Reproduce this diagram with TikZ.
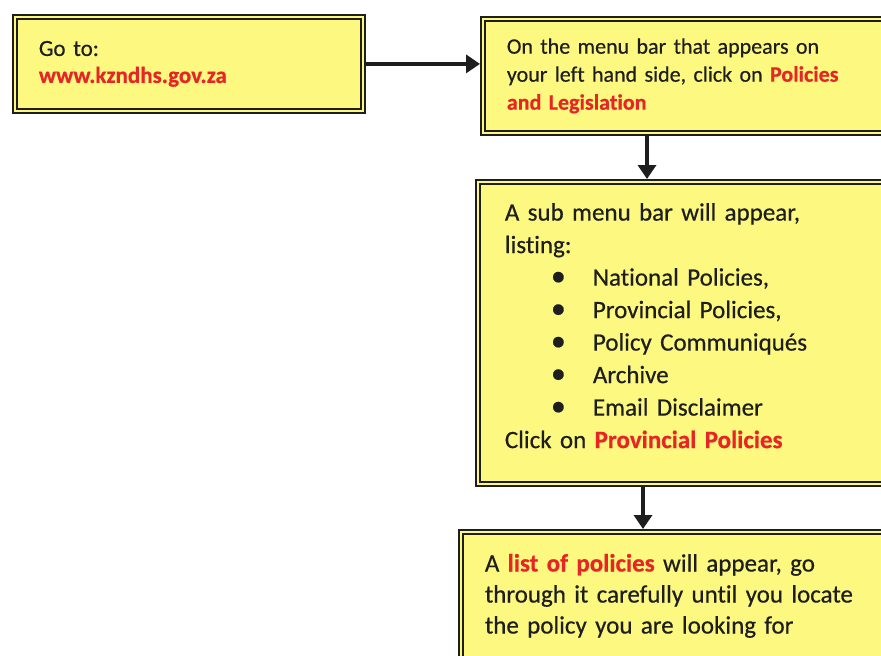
\documentclass[tikz,border=0pt]{standalone}
\usepackage{fontspec}
\setmainfont{Carlito}[Ligatures=NoCommon, WordSpace=0.85, FakeBold=0.5]
\usetikzlibrary{arrows.meta}
\definecolor{boxyellow}{RGB}{252,248,128}
\definecolor{inkgray}{RGB}{30,30,30}
\definecolor{linkred}{RGB}{232,36,36}
\newcommand{\hot}[1]{\textcolor{linkred}{\bfseries #1}}
\newcommand{\itm}[1]{\hspace*{46pt}\makebox[42pt][l]{\scalebox{1.2}{\textbullet}}#1}
\tikzset{
  stepbox/.style={draw=inkgray, fill=boxyellow, line width=2pt,
    double=boxyellow, double distance=1.8pt, outer sep=2.9pt,
    anchor=north west, align=left, inner xsep=24pt, text=inkgray,
    font=\fontsize{22}{28}\selectfont},
  flow/.style={draw=inkgray, line width=4.5pt, -{Triangle[length=14pt,width=18pt]}}
}
\begin{document}
\begin{tikzpicture}[x=1pt,y=-1pt]
  \useasboundingbox (0,0) rectangle (881,656);
  \clip (0,0) rectangle (881,656);
  \node (go) at (12,14) [stepbox, text width=300pt, minimum height=94pt,
    font=\fontsize{23}{27}\selectfont]
    {Go to:\\ \hot{www.kzndhs.gov.za}};
  \node (menu) at (480,16) [stepbox, text width=420pt, minimum height=114pt]
    {On the menu bar that appears on\\ your left hand side, click on \hot{Policies}\\ \hot{and Legislation}};
  \node (sub) at (475,179) [stepbox, inner xsep=27pt, text width=420pt, minimum height=302pt,
    font=\fontsize{25}{32.5}\selectfont]
    {A sub menu bar will appear,\\ listing:\\
     \itm{National Policies,}\\ \itm{Provincial Policies,}\\ \itm{Policy Communiqués}\\
     \itm{Archive}\\ \itm{Email Disclaimer}\\
     Click on \hot{Provincial Policies}\\[-18pt]\mbox{}};
  \node (list) at (458,529) [stepbox, text width=430pt, minimum height=128pt,
    font=\fontsize{25}{31}\selectfont]
    {A \hot{list of policies} will appear, go\\ through it carefully until you locate\\ the policy you are looking for};
  \draw[flow] (go.east) -- (go.east -| menu.west);
  \draw[flow] ([xshift=167pt]menu.south west) -- ([xshift=167pt]menu.south west |- sub.north);
  \draw[flow] ([xshift=168pt]sub.south west) -- ([xshift=168pt]sub.south west |- list.north);
\end{tikzpicture}
\end{document}
